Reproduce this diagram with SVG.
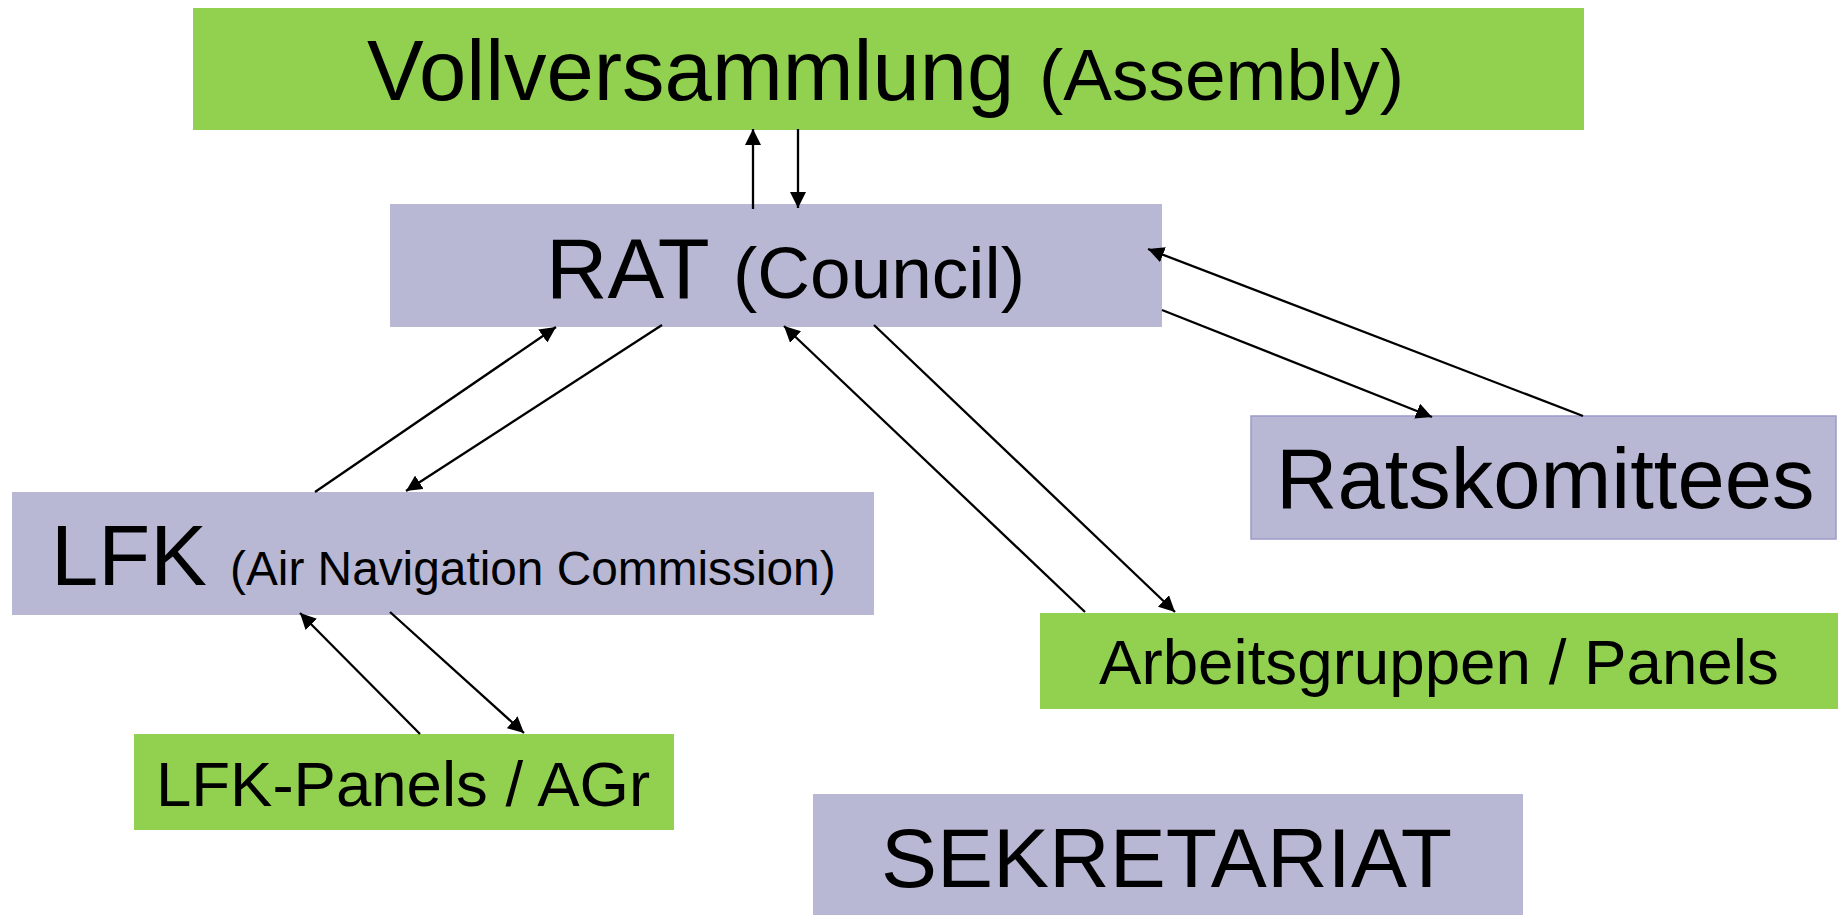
<svg xmlns="http://www.w3.org/2000/svg" width="1840" height="915" viewBox="0 0 1840 915">
<defs>
<style>
.green{fill:#92D050}
.lav{fill:#B8B8D4}
text{font-family:"Liberation Sans",Arial,sans-serif;fill:#000}
.big{font-size:85px}
.conn line{stroke:#000;stroke-width:2.3;marker-end:url(#ah)}
</style>
<marker id="ah" markerUnits="userSpaceOnUse" markerWidth="17" markerHeight="16" refX="16" refY="8" orient="auto" viewBox="0 0 17 16">
<path d="M0,0 L16,8 L0,16 z" fill="#000"/>
</marker>
</defs>
<rect width="1840" height="915" fill="#fff"/>
<g id="vollversammlung">
<rect class="green" x="193" y="8" width="1391" height="122"/>
<text x="367" y="100" class="big">Vollversammlung<tspan x="1039" font-size="73">(Assembly)</tspan></text>
</g>
<g id="rat">
<rect class="lav" x="390" y="204" width="772" height="123"/>
<text x="546" y="298" class="big">RAT<tspan x="733" font-size="73">(Council)</tspan></text>
</g>
<g id="ratskomittees">
<rect class="lav" x="1251" y="416" width="585" height="123" stroke="#9B9BCB" stroke-width="1.5"/>
<text x="1276" y="508" class="big">Ratskomittees</text>
</g>
<g id="lfk">
<rect class="lav" x="12" y="492" width="862" height="123"/>
<text x="51" y="585" class="big">LFK<tspan x="230" font-size="47.8">(Air Navigation Commission)</tspan></text>
</g>
<g id="arbeitsgruppen">
<rect class="green" x="1040" y="613" width="798" height="96"/>
<text x="1099" y="684" font-size="63.7">Arbeitsgruppen / Panels</text>
</g>
<g id="lfk-panels">
<rect class="green" x="134" y="734" width="540" height="96"/>
<text x="156" y="806" font-size="63.5">LFK-Panels / AGr</text>
</g>
<g id="sekretariat">
<rect class="lav" x="813" y="794" width="710" height="121"/>
<text x="881" y="887" font-size="84">SEKRETARIAT</text>
</g>
<g id="connectors" class="conn">
<line x1="753" y1="209" x2="753" y2="129"/>
<line x1="798" y1="129" x2="798" y2="208"/>
<line x1="315" y1="492" x2="556" y2="327"/>
<line x1="662" y1="325" x2="406" y2="491"/>
<line x1="1085" y1="612" x2="784" y2="326"/>
<line x1="874" y1="325" x2="1175" y2="612"/>
<line x1="1583" y1="416" x2="1148" y2="249"/>
<line x1="1162" y1="310" x2="1432" y2="417"/>
<line x1="420" y1="734" x2="300" y2="613"/>
<line x1="390" y1="612" x2="524" y2="733"/>
</g>
</svg>
